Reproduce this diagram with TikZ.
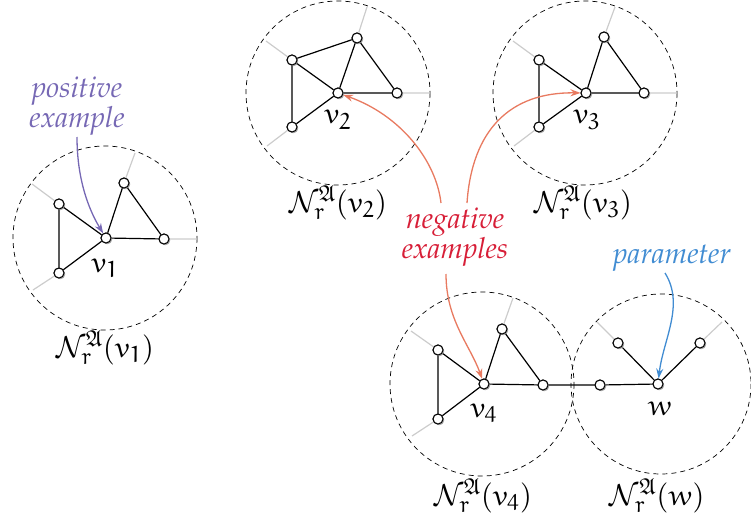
\documentclass[tikz,border=0pt]{standalone}
\usepackage[T1]{fontenc}
\usepackage{amssymb}
\usepackage{mathpazo}
\DeclareMathAlphabet{\eul}{U}{eur}{m}{n}
\DeclareMathSizes{29}{29}{23}{18}
\usetikzlibrary{arrows.meta,shadows}
\definecolor{pospurple}{RGB}{118,104,180}
\definecolor{negred}{RGB}{215,30,55}
\definecolor{negarrow}{RGB}{232,122,96}
\definecolor{parblue}{RGB}{65,140,210}
\newcommand{\labsize}{\fontsize{29}{32}\selectfont}
\newcommand{\annsize}{\fontsize{29}{30.5}\selectfont\itshape}
\newcommand{\nbh}[1]{\mathcal{N}^{\mathfrak{A}}_{\eul{r}}(#1)}
\tikzset{
  vtx/.style={circle,draw=black,fill=white,line width=1pt,minimum size=10pt,inner sep=0pt,
    drop shadow={shadow xshift=1.2pt,shadow yshift=-1.2pt,fill=black!35,opacity=0.8}},
  edg/.style={line width=1.2pt,black},
  gedg/.style={line width=1.2pt,black!20},
  nbhd/.style={dashed,line width=0.7pt,dash pattern=on 5pt off 4pt},
  lab/.style={font=\labsize,anchor=base,inner sep=0pt},
  ann/.style={font=\annsize,align=center,inner sep=0pt},
  arr/.style={line width=1.3pt,-{Stealth[length=10pt,width=7pt]}},
}
\begin{document}
\begin{tikzpicture}[x=1pt,y=-1pt]
\useasboundingbox (0,0) rectangle (751,524);
% ---------- v1 ----------
\draw[nbhd] (105,238) circle (92);
\coordinate (g1a) at (32,184); \coordinate (g1b) at (33,290);
\coordinate (g1c) at (135,153); \coordinate (g1d) at (197,239);
\node[vtx] (v1) at (106,238) {};
\node[vtx] (a1) at (59,204) {};
\node[vtx] (b1) at (59,273) {};
\node[vtx] (c1) at (124,183) {};
\node[vtx] (d1) at (164,239) {};
\draw[gedg] (a1)--(g1a) (b1)--(g1b) (c1)--(g1c) (d1)--(g1d);
\draw[edg] (a1)--(v1) (a1)--(b1) (b1)--(v1) (v1)--(c1) (c1)--(d1) (v1)--(d1);
\foreach \n in {v1,a1,b1,c1,d1} \node[vtx] at (\n) {};
\node[lab] (l1) at (105,272) {$\eul{v}_{\eul{1}}$};
\node[lab] (n1) at (105,357) {$\nbh{\eul{v}_{\eul{1}}}$};
% ---------- v2 ----------
\draw[nbhd] (338,93) circle (92);
\coordinate (g2a) at (266,41); \coordinate (g2b) at (267,146);
\coordinate (g2c) at (367,7); \coordinate (g2d) at (430,93);
\node[vtx] (v2) at (338,93) {};
\node[vtx] (a2) at (292,60) {};
\node[vtx] (b2) at (292,127) {};
\node[vtx] (c2) at (357,38) {};
\node[vtx] (d2) at (397,93) {};
\draw[gedg] (a2)--(g2a) (b2)--(g2b) (c2)--(g2c) (d2)--(g2d);
\draw[edg] (a2)--(c2) (a2)--(v2) (a2)--(b2) (b2)--(v2) (v2)--(c2) (c2)--(d2) (v2)--(d2);
\foreach \n in {v2,a2,b2,c2,d2} \node[vtx] at (\n) {};
\node[lab] (l2) at (338,124) {$\eul{v}_{\eul{2}}$};
\node[lab] (n2) at (338,212) {$\nbh{\eul{v}_{\eul{2}}}$};
% ---------- v3 ----------
\draw[nbhd] (585,93) circle (92);
\coordinate (g3a) at (513,41); \coordinate (g3b) at (514,146);
\coordinate (g3c) at (615,7); \coordinate (g3d) at (677,93);
\node[vtx] (v3) at (586,93) {};
\node[vtx] (a3) at (539,60) {};
\node[vtx] (b3) at (539,127) {};
\node[vtx] (c3) at (604,37) {};
\node[vtx] (d3) at (644,93) {};
\draw[gedg] (a3)--(g3a) (b3)--(g3b) (c3)--(g3c) (d3)--(g3d);
\draw[edg] (a3)--(v3) (a3)--(b3) (b3)--(v3) (v3)--(c3) (c3)--(d3) (v3)--(d3);
\foreach \n in {v3,a3,b3,c3,d3} \node[vtx] at (\n) {};
\node[lab] (l3) at (587,124) {$\eul{v}_{\eul{3}}$};
\node[lab] (n3) at (583,212) {$\nbh{\eul{v}_{\eul{3}}}$};
% ---------- v4 and w ----------
\draw[nbhd] (482,384) circle (92);
\draw[nbhd] (661,384) circle (90);
\coordinate (g4a) at (411,331); \coordinate (g4b) at (412,436);
\coordinate (g4c) at (513,298);
\coordinate (gwa) at (597,322); \coordinate (gwb) at (722,322);
\node[vtx] (v4) at (484,384) {};
\node[vtx] (a4) at (438,350) {};
\node[vtx] (b4) at (438,419) {};
\node[vtx] (c4) at (502,329) {};
\node[vtx] (d4) at (543,385) {};
\node[vtx] (e4) at (600,385) {};
\node[vtx] (w) at (658,384) {};
\node[vtx] (wa) at (618,343) {};
\node[vtx] (wb) at (700,343) {};
\draw[gedg] (a4)--(g4a) (b4)--(g4b) (c4)--(g4c) (wa)--(gwa) (wb)--(gwb);
\draw[edg] (a4)--(v4) (a4)--(b4) (b4)--(v4) (v4)--(c4) (c4)--(d4) (v4)--(d4)
  (d4)--(e4) (e4)--(w) (w)--(wa) (w)--(wb);
\foreach \n in {v4,a4,b4,c4,d4,e4,w,wa,wb} \node[vtx] at (\n) {};
\node[lab] (l4) at (484,417) {$\eul{v}_{\eul{4}}$};
\node[lab] (lw) at (660,415) {$\eul{w}$};
\node[lab] (n4) at (483,505) {$\nbh{\eul{v}_{\eul{4}}}$};
\node[lab] (nw) at (657,505) {$\nbh{\eul{w}}$};
% ---------- annotations ----------
\node[ann,text=pospurple] (pos) at (77,106) {positive\\example};
\node[ann,text=negred] (neg) at (455,237) {negative\\examples};
\node[ann,text=parblue,anchor=base] (par) at (672,263) {parameter};
\coordinate (ps) at (77,137);
\coordinate (n2s) at (441,203);
\coordinate (n3s) at (467,203);
\coordinate (n4s) at (446,274);
\coordinate (prs) at (665,273);
\draw[arr,pospurple] (ps) .. controls (77,185) and (92,215) .. (v1);
\draw[arr,negarrow] (n2s) .. controls (436,160) and (400,115) .. (v2);
\draw[arr,negarrow] (n3s) .. controls (472,130) and (510,92) .. (v3);
\draw[arr,negarrow] (n4s) .. controls (446,320) and (470,345) .. (v4);
\draw[arr,parblue] (prs) .. controls (685,305) and (663,340) .. (w);
\end{tikzpicture}
\end{document}
